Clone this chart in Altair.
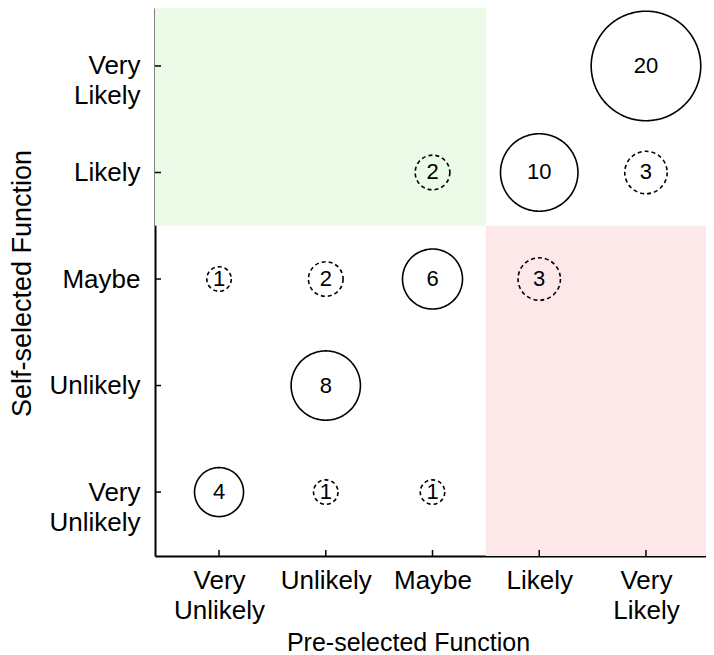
import altair as alt
import pandas as pd

levels = ["Very\nUnlikely", "Unlikely", "Maybe", "Likely", "Very\nLikely"]
level_nums = [1, 2, 3, 4, 5]

pre_selected = [1, 2, 3, 2, 1, 2, 3, 4, 3, 4, 5, 5]
self_selected = [1, 1, 1, 2, 3, 3, 3, 3, 4, 4, 4, 5]
counts = [4, 1, 1, 8, 1, 2, 6, 3, 2, 10, 3, 20]

split = 3.5
regions_x = [0.4, split]
regions_x2 = [split, 5.6]
regions_y = [split, 0.4]
regions_y2 = [5.6, split]
region_colors = ["#ebfbe7", "#fce8e8"]

W, H = 551, 548
xdom = [0.4, 5.5625]
ydom = [0.4, 5.544]

df = pd.DataFrame({"pre": pre_selected, "self": self_selected, "n": counts})
reg = pd.DataFrame({"x": regions_x, "x2": regions_x2, "y": regions_y, "y2": regions_y2, "c": region_colors})
lev = pd.DataFrame({"v": level_nums})

lab_js = "[" + ",".join("'" + s.replace("\n", "\\n") + "'" for s in levels) + "]"
label_expr = f"split({lab_js}[datum.value-1], '\\n')"

font = "Liberation Sans"

xs = alt.Scale(domain=xdom, nice=False, zero=False, clamp=False)
ys = alt.Scale(domain=ydom, nice=False, zero=False)

x_axis = alt.Axis(values=level_nums, labelExpr=label_expr, ticks=False, grid=False,
                  domainColor="black", domainWidth=2, labelFontSize=26, labelFont=font,
                  labelColor="black", labelPadding=11, labelLineHeight=30,
                  title="Pre-selected Function", titleFontSize=25, titleFont=font,
                  titleFontWeight="normal", titleColor="black", titleY=86, titleX=253,
                  titleAlign="center", titleBaseline="middle")
y_axis = alt.Axis(values=level_nums, labelExpr=label_expr, ticks=False, grid=False,
                  domainColor="black", domainWidth=2, labelFontSize=26, labelFont=font,
                  labelColor="black", labelPadding=15, labelLineHeight=30, labelBaseline="middle",
                  title="Self-selected Function", titleFontSize=27, titleFont=font,
                  titleFontWeight="normal", titleColor="black", titleX=-133, titleY=H / 2 + 1,
                  titleAngle=-90, titleBaseline="middle", titleAlign="center")

rects = alt.Chart(reg).mark_rect(clip=True).encode(
    x=alt.X("x:Q", scale=xs, axis=x_axis),
    x2="x2:Q",
    y=alt.Y("y:Q", scale=ys, axis=y_axis),
    y2="y2:Q",
    color=alt.Color("c:N", scale=None),
)

xticks = alt.Chart(lev).mark_rule(color="black", strokeWidth=1.5).encode(
    x=alt.X("v:Q", scale=xs), y=alt.value(H - 6), y2=alt.value(H)
)
yticks = alt.Chart(lev).mark_rule(color="black", strokeWidth=1.5).encode(
    y=alt.Y("v:Q", scale=ys), x=alt.value(0), x2=alt.value(6)
)

circles = alt.Chart(df).mark_point(shape="circle", filled=False, color="black", strokeWidth=1.6, opacity=1).encode(
    x=alt.X("pre:Q", scale=xs),
    y=alt.Y("self:Q", scale=ys),
    size=alt.Size("n:Q", scale=alt.Scale(domain=[0, 20], range=[0, 12000]), legend=None),
    strokeDash=alt.condition(alt.datum.n < 4, alt.value([4, 3]), alt.value([1, 0])),
)

texts = alt.Chart(df).mark_text(fontSize=22, font=font, color="black", baseline="middle").encode(
    x=alt.X("pre:Q", scale=xs),
    y=alt.Y("self:Q", scale=ys),
    text="n:Q",
)

chart = alt.layer(rects, xticks, yticks, circles, texts).properties(
    width=W, height=H,
    autosize=alt.AutoSizeParams(type="none"),
    padding={"left": 147, "top": 0, "right": 0, "bottom": 99},
).configure_view(stroke=None)

chart.save("out.html", embed_options={"renderer": "svg", "actions": False})
